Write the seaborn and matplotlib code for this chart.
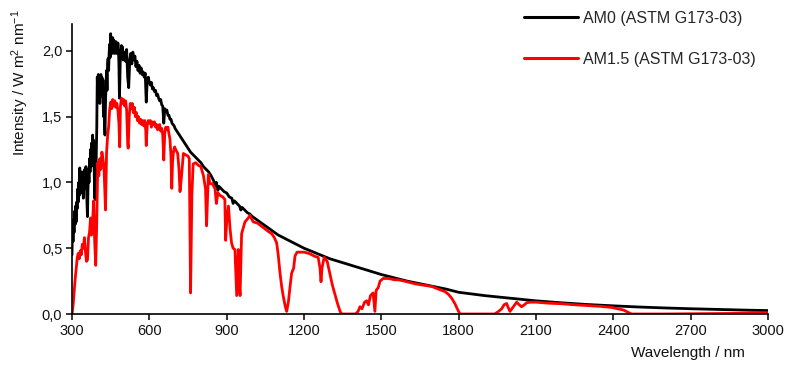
import numpy as np
import pandas as pd
import matplotlib
matplotlib.use("Agg")
import matplotlib.pyplot as plt
import seaborn as sns
from matplotlib.lines import Line2D

# ---- data ----
am0_wl = [300, 302, 304, 306, 308, 310, 312, 314, 316, 318, 320, 322, 324, 326, 328, 330,
          332, 334, 336, 338, 340, 342, 344, 346, 348, 350, 352, 354, 356, 358, 360, 362,
          364, 366, 368, 370, 372, 374, 376, 378, 380, 382, 384, 386, 388, 390, 392, 394,
          396, 398, 400, 402, 404, 406, 408, 410, 412, 414, 416, 418, 420, 422, 424, 426,
          428, 430, 432, 434, 436, 438, 440, 442, 444, 446, 448, 450, 452, 454, 456, 458,
          460, 462, 464, 466, 468, 470, 472, 474, 476, 478, 480, 482, 484, 486, 488, 490,
          492, 494, 496, 498,
          500, 504, 508, 512, 516, 520, 524, 528, 532, 536, 540, 544, 548, 552, 556, 560,
          564, 568, 572, 576, 580, 584, 588, 592, 596, 600, 604, 608, 612, 616, 620, 624,
          628, 632, 636, 640, 644, 648, 652, 656, 660, 664, 668, 672, 676, 680, 684, 688,
          692, 696, 700,
          710, 720, 730, 740, 750, 760, 770, 780, 790, 800, 810, 820, 830, 840, 850, 855,
          860, 866, 870, 880, 890, 900, 910, 920, 925, 930, 940, 950, 955, 960, 970, 980,
          990, 1000, 1050, 1100, 1150, 1200, 1250, 1300, 1350, 1400, 1450, 1500, 1550,
          1600, 1650, 1700, 1750, 1800, 1900, 2000, 2100, 2200, 2300, 2400, 2500, 2600,
          2700, 2800, 2900, 3000]
am0_val = [0.45, 0.70, 0.55, 0.72, 0.62, 0.78, 0.68, 0.82, 0.70, 0.85, 0.80, 0.95, 0.85, 1.00, 0.90, 1.11,
           0.95, 1.05, 0.92, 1.08, 0.95, 1.02, 0.88, 1.05, 0.95, 1.10, 0.98, 1.12, 1.00, 0.85, 0.74, 0.95,
           1.10, 1.00, 1.18, 1.08, 1.25, 1.12, 1.30, 1.20, 1.36, 1.25, 1.32, 1.10, 0.88, 1.00, 0.87, 1.20,
           1.40, 1.80, 1.65, 1.82, 1.70, 1.78, 1.60, 1.75, 1.82, 1.70, 1.80, 1.65, 1.78, 1.50, 1.72, 1.45,
           1.36, 1.60, 1.75, 1.85, 1.70, 1.90, 1.94, 1.85, 1.98, 2.05, 1.95, 2.13, 2.02, 2.08, 1.98, 2.10,
           2.04, 2.08, 1.98, 2.06, 2.00, 2.07, 1.98, 2.05, 2.00, 2.06, 2.02, 1.90, 1.64, 1.80, 2.00, 1.96,
           2.04, 1.98, 2.03, 1.93,
           1.95, 1.99, 1.92, 2.01, 1.80, 1.72, 1.93, 1.98, 1.90, 1.99, 1.93, 1.96, 1.88, 1.92, 1.85, 1.89,
           1.83, 1.87, 1.82, 1.84, 1.80, 1.83, 1.61, 1.78, 1.80, 1.76, 1.74, 1.76, 1.71, 1.72, 1.69, 1.70,
           1.66, 1.67, 1.64, 1.62, 1.63, 1.59, 1.58, 1.45, 1.56, 1.54, 1.55, 1.51, 1.51, 1.48, 1.48, 1.45,
           1.44, 1.43, 1.41,
           1.38, 1.35, 1.32, 1.29, 1.26, 1.23, 1.21, 1.19, 1.17, 1.15, 1.12, 1.10, 1.08, 1.05, 1.01, 0.97,
           1.00, 0.94, 0.97, 0.95, 0.93, 0.92, 0.89, 0.88, 0.84, 0.86, 0.84, 0.82, 0.79, 0.81, 0.79, 0.77,
           0.76, 0.74, 0.67, 0.60, 0.55, 0.50, 0.46, 0.42, 0.39, 0.36, 0.33, 0.30, 0.275,
           0.25, 0.23, 0.21, 0.19, 0.165, 0.14, 0.12, 0.10, 0.085, 0.072, 0.062, 0.053, 0.046,
           0.040, 0.035, 0.030, 0.026]

am15_wl = [300, 304, 308, 312, 316, 320, 324, 328, 332, 336, 340, 344, 348, 352, 356, 360,
           364, 368, 372, 376, 380, 384, 388, 392, 396, 400, 404, 408, 412, 416, 420, 424,
           428, 430, 434, 438, 442, 446, 450, 454, 458, 462, 466, 470, 474, 478, 482, 485,
           488, 492, 496, 500, 504, 508, 512, 516, 518, 522, 526, 530, 534, 538, 542, 546,
           550, 554, 558, 562, 566, 570, 574, 578, 582, 586, 588, 592, 596, 600, 604, 608,
           612, 616, 620, 624, 628, 632, 636, 640, 644, 648, 652, 656, 660, 664, 668, 672,
           676, 680, 684, 687, 690, 694, 698, 702,
           710, 715, 719, 725, 732, 740, 750, 755, 760, 765, 770, 780, 790, 800, 810, 818,
           822, 829, 835, 845, 855, 860, 866, 875, 885, 893, 896, 900, 907, 913, 919, 925,
           932, 939, 945, 950, 952, 958, 965, 971, 984, 990, 1003, 1020, 1040, 1060, 1075,
           1085, 1094, 1100, 1107, 1114, 1120, 1127, 1133, 1140, 1146, 1152, 1160, 1165,
           1173, 1185, 1200, 1220, 1240, 1255, 1262, 1266, 1270, 1278, 1290, 1301, 1310,
           1320, 1330, 1340, 1346, 1400, 1410, 1417, 1425, 1435, 1443, 1450, 1458, 1468,
           1475, 1480, 1488, 1495, 1507, 1530, 1550, 1565, 1600, 1630, 1660, 1695, 1720,
           1747, 1760, 1773, 1785, 1797, 1805, 1940, 1955, 1967, 1976, 1986, 1992, 1999,
           2010, 2025, 2035, 2044, 2055, 2064, 2080, 2100, 2150, 2200, 2250, 2300, 2350,
           2393, 2426, 2440, 2452, 2471, 2600, 2800, 2900, 3000]
am15_val = [0.0, 0.06, 0.16, 0.26, 0.34, 0.42, 0.46, 0.42, 0.48, 0.45, 0.53, 0.50, 0.58, 0.48, 0.40, 0.41,
            0.58, 0.62, 0.73, 0.60, 0.70, 0.86, 0.55, 0.37, 0.70, 1.15, 1.05, 1.18, 1.10, 1.23, 1.18, 1.12,
            0.90, 0.79, 1.22, 1.35, 1.42, 1.55, 1.61, 1.56, 1.63, 1.58, 1.62, 1.57, 1.60, 1.55, 1.45, 1.27,
            1.58, 1.64, 1.60, 1.63, 1.58, 1.62, 1.55, 1.30, 1.26, 1.50, 1.60, 1.56, 1.60, 1.53, 1.57, 1.50,
            1.53, 1.47, 1.50, 1.45, 1.48, 1.44, 1.47, 1.43, 1.47, 1.40, 1.28, 1.44, 1.47, 1.45, 1.47, 1.42,
            1.46, 1.44, 1.46, 1.42, 1.44, 1.40, 1.43, 1.44, 1.39, 1.41, 1.36, 1.17, 1.38, 1.42, 1.40, 1.42,
            1.37, 1.33, 1.20, 0.955, 1.15, 1.24, 1.27, 1.25,
            1.22, 1.10, 0.93, 1.05, 1.22, 1.21, 1.20, 1.18, 0.16, 0.90, 1.14, 1.15, 1.13, 1.12, 1.05, 0.95,
            0.67, 1.06, 0.99, 0.99, 0.95, 0.84, 0.92, 0.90, 0.89, 0.87, 0.56, 0.70, 0.82, 0.65, 0.54, 0.50,
            0.49, 0.14, 0.49, 0.20, 0.14, 0.61, 0.66, 0.70, 0.73, 0.75, 0.70, 0.69, 0.66, 0.63, 0.61,
            0.58, 0.54, 0.45, 0.31, 0.20, 0.13, 0.06, 0.02, 0.10, 0.21, 0.31, 0.35, 0.44,
            0.47, 0.47, 0.47, 0.46, 0.44, 0.43, 0.35, 0.245, 0.35, 0.43, 0.40, 0.30, 0.22,
            0.15, 0.08, 0.02, 0.0, 0.0, 0.02, 0.055, 0.04, 0.09, 0.10, 0.07, 0.14, 0.16,
            0.02, 0.18, 0.20, 0.25, 0.27, 0.27, 0.26, 0.26, 0.245, 0.23, 0.22, 0.21, 0.19,
            0.17, 0.15, 0.12, 0.08, 0.03, 0.0, 0.0, 0.02, 0.04, 0.07, 0.08, 0.05, 0.02,
            0.05, 0.09, 0.07, 0.055, 0.07, 0.086, 0.09, 0.09, 0.082, 0.078, 0.07, 0.064, 0.058,
            0.05, 0.036, 0.03, 0.018, 0.0, 0.0, 0.003, 0.005, 0.01]

labels = ["AM0 (ASTM G173-03)", "AM1.5 (ASTM G173-03)"]
x_ticks = [300, 600, 900, 1200, 1500, 1800, 2100, 2400, 2700, 3000]
y_ticks = [0.0, 0.5, 1.0, 1.5, 2.0]
y_tick_labels = ["0,0", "0,5", "1,0", "1,5", "2,0"]

df = pd.concat([
    pd.DataFrame({"wl": am0_wl, "val": am0_val, "series": labels[0]}),
    pd.DataFrame({"wl": am15_wl, "val": am15_val, "series": labels[1]}),
], ignore_index=True)

sns.set_theme(style="white")
plt.rcParams["font.family"] = ["Liberation Sans", "DejaVu Sans"]
plt.rcParams["mathtext.fontset"] = "custom"
plt.rcParams["mathtext.rm"] = "Liberation Sans"
plt.rcParams["mathtext.it"] = "Liberation Sans:italic"

W, H = 786, 367
fig = plt.figure(figsize=(W / 100, H / 100), dpi=100)
ax_left, ax_right, ax_bot = 72 / W, 768 / W, 1 - 314 / H
ax_top = 1 - 24.5 / H
ax = fig.add_axes([ax_left, ax_bot, ax_right - ax_left, ax_top - ax_bot])

sns.lineplot(data=df, x="wl", y="val", hue="series", estimator=None, sort=False,
             palette={labels[0]: "black", labels[1]: "#ff0000"}, linewidth=2.0, ax=ax,
             legend=False)

ax.set_xlim(300, 3000)
ax.set_ylim(0, 2.2)
ax.set_xticks(x_ticks)
ax.set_xticklabels([str(t) for t in x_ticks])
ax.set_yticks(y_ticks)
ax.set_yticklabels(y_tick_labels)
ax.set_xlabel("")
ax.set_ylabel("")
for s in ["top", "right"]:
    ax.spines[s].set_visible(False)
for s in ["left", "bottom"]:
    ax.spines[s].set_color("black")
    ax.spines[s].set_linewidth(1.2)
ax.tick_params(axis="both", direction="out", length=4, width=1.1, color="black",
               labelsize=10.5, labelcolor="#111111", pad=3)
ax.tick_params(axis="x", bottom=True)
ax.tick_params(axis="y", left=True)

fig.text(745 / W, 1 - 353 / H, "Wavelength / nm", ha="right", va="center", fontsize=11,
         color="#111111")
fig.text(20 / W, 1 - 9 / H, r"Intensity / W m$^{2}$ nm$^{-1}$", rotation=90,
         ha="center", va="top", fontsize=11, color="#111111")

handles = [Line2D([], [], color="black", lw=2.2), Line2D([], [], color="#ff0000", lw=2.2)]
fig.legend(handles, labels, loc="upper left", bbox_to_anchor=(524 / W, 1 - 11 / H),
           frameon=False, fontsize=11.5, handlelength=3.4, handletextpad=0.3,
           labelspacing=1.6, borderpad=0, borderaxespad=0)

fig.savefig("out.png", dpi=100)
